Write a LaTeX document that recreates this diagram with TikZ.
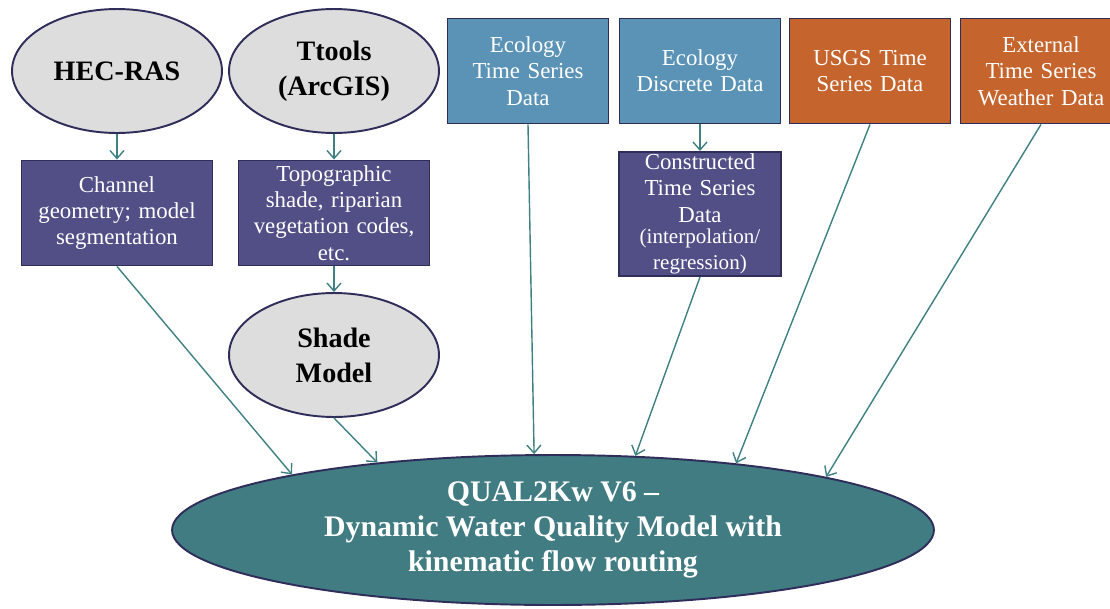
\documentclass[tikz,border=0pt]{standalone}
\usepackage{fontspec}
\setmainfont{Liberation Serif}
\usetikzlibrary{positioning,shapes.geometric,arrows.meta}
\definecolor{navy}{HTML}{2F2D5A}
\definecolor{cloud}{HTML}{DDDDDD}
\definecolor{plum}{HTML}{524F87}
\definecolor{steel}{HTML}{5B93B7}
\definecolor{rust}{HTML}{C5642C}
\definecolor{lagoon}{HTML}{417C82}
\definecolor{flow}{HTML}{3F8082}

\tikzset{
    tool/.style={ellipse, draw=navy, line width=1.1pt, fill=cloud, inner sep=0pt,
        minimum width=4.2cm, minimum height=2.48cm, align=center,
        font=\fontsize{16}{20}\selectfont\bfseries},
    databox/.style={rectangle, draw=navy, line width=1.1pt, text=white, align=center,
        inner sep=1pt, minimum height=2.1cm, font=\fontsize{13}{15}\selectfont},
    link/.style={flow, line width=0.8pt, -{Straight Barb[length=0.16cm, width=0.28cm]}}
}

\begin{document}
\begin{tikzpicture}[x=0.02cm, y=-0.02cm]
    \useasboundingbox (0,0) rectangle (1110,609);

    % Source tools
    \node[tool] (hecras) at (117,71) {HEC-RAS};
    \node[tool] (ttools) at (334,71) {Ttools\\(ArcGIS)};

    % Derived inputs
    \node[databox, fill=plum, minimum width=3.82cm, text width=3.5cm] (channel) at (117,213)
        {Channel\\geometry; model\\segmentation};
    \node[databox, fill=plum, minimum width=3.82cm, text width=3.6cm] (topo) at (334,213)
        {Topographic\\shade, riparian\\vegetation codes,\\etc.};
    \node[tool] (shade) at (334,355) {Shade\\Model};

    % Data sources
    \node[databox, fill=steel, minimum width=3.22cm, text width=3.1cm] (ecots) at (528,71)
        {Ecology\\Time Series\\Data};
    \node[databox, fill=steel, minimum width=3.22cm, text width=3.1cm] (ecodisc) at (700,71)
        {Ecology\\Discrete Data};
    \node[databox, fill=rust, minimum width=3.22cm, text width=3.1cm] (usgs) at (870,71)
        {USGS Time\\Series Data};
    \node[databox, fill=rust, minimum width=3.22cm, text width=3.1cm] (external) at (1041,71)
        {External\\Time Series\\Weather Data};
    \node[databox, fill=plum, minimum width=3.24cm, minimum height=2.48cm, text width=3.1cm] (constructed) at (700,214)
        {Constructed\\Time Series\\Data\\[-1pt]{\fontsize{12}{13}\selectfont (interpolation/\\regression)}};

    % Model
    \node[ellipse, draw=navy, line width=1.1pt, fill=lagoon, text=white, inner sep=0pt,
        minimum width=15.24cm, minimum height=3.0cm, align=center,
        font=\fontsize{17}{20}\selectfont\bfseries] (qual) at (553,530)
        {QUAL2Kw V6 --\\Dynamic Water Quality Model with\\kinematic flow routing};

    % Connectors
    \draw[link] (hecras.south) -- (channel.north);
    \draw[link] (ttools.south) -- (topo.north);
    \draw[link] (topo.south) -- (shade.north);
    \draw[link] (ecodisc.south) -- (constructed.north);
    \draw[link] (channel.south) -- (qual.168.5);
    \draw[link] (shade.south) -- (qual.159.8);
    \draw[link] (ecots.south) -- (qual.104.6);
    \draw[link] (constructed.south) -- (qual.42.2);
    \draw[link] (usgs.south) -- (qual.20.7);
    \draw[link] (external.south) -- (qual.11.5);
\end{tikzpicture}
\end{document}
